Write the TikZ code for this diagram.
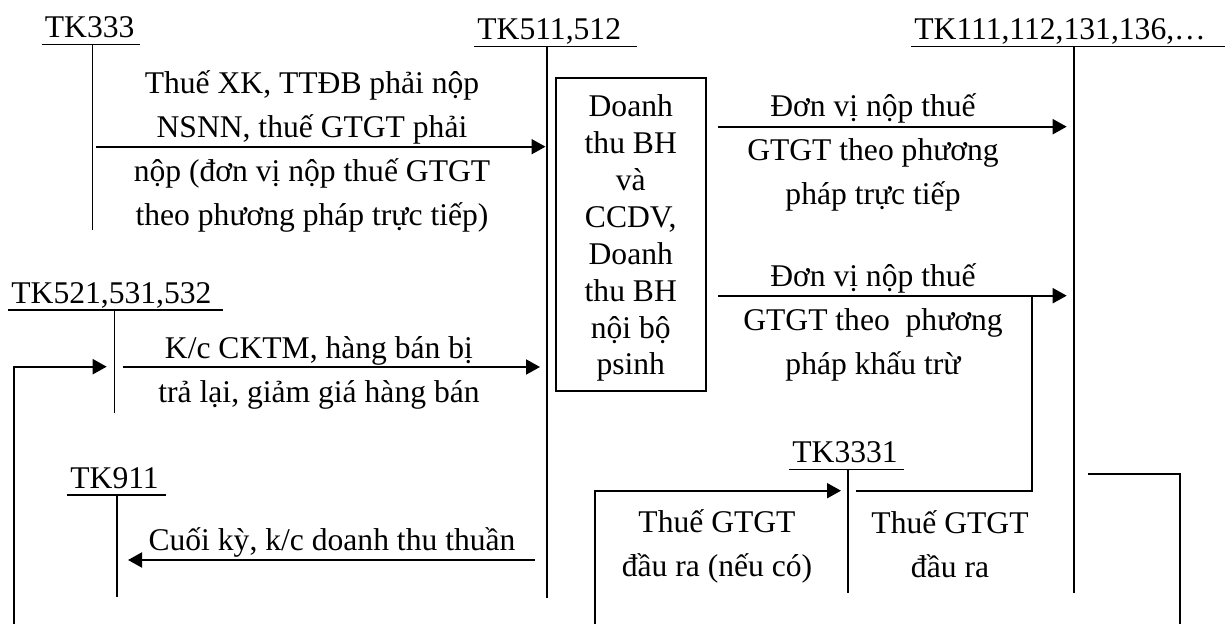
\documentclass[tikz,border=0pt]{standalone}
\usepackage{fontspec}
\setmainfont{Liberation Serif}
\usetikzlibrary{arrows.meta}
\tikzset{
  acct/.style={anchor=base west, inner sep=0pt, font=\fontsize{15.8}{19}\selectfont},
  tline/.style={line width=0.75pt},
  arr/.style={line width=1pt, -{Triangle[length=7pt,width=7.5pt]}},
  link/.style={line width=1pt},
  lbl/.style={align=center, inner sep=0pt, font=\fontsize{15.8}{22}\selectfont},
  doanhthu/.style={draw, line width=1pt, align=center, inner sep=0pt,
    minimum width=75.25pt, minimum height=156.5pt,
    font=\fontsize{15.8}{18.45}\selectfont}
}
% name, label, underline from, underline to, stem x, top y, bottom y
\newcommand{\taccount}[7]{%
  \node[acct] (#1) at (#3+3,#6-6.5) {#2};
  \draw[tline] (#3,#6) -- (#4,#6);
  \draw[tline] (#5,#6) coordinate (#1t) -- (#5,#7) coordinate (#1b);
}

\begin{document}
\begin{tikzpicture}[x=0.5pt,y=-0.5pt]
\useasboundingbox (0,0) rectangle (1225,624);

\taccount{tk333}{TK333}{41.5}{140}{92.5}{44.5}{230}
\taccount{tk511}{TK511,512}{474}{637}{547}{46.5}{598}
\taccount{tk111}{TK111,112,131,136,…}{911}{1225}{1074}{46.5}{593}
\taccount{tk521}{TK521,531,532}{8}{222.5}{114.5}{310}{413}
\taccount{tk911}{TK911}{67}{166}{117}{495}{597}
\taccount{tk3331}{TK3331}{789}{904}{848}{469.5}{593}

\node[doanhthu] (dt) at (630.75,234.2)
  {\rule{0pt}{15pt}Doanh\\thu BH\\và\\CCDV,\\Doanh\\thu BH\\nội bộ\\psinh};

\coordinate (nsnnA) at (96,146.7);   \coordinate (nsnnB) at (545.5,146.7);
\coordinate (ttA) at (718,126.7);    \coordinate (ttB) at (1066.7,126.7);
\coordinate (ktA) at (718,295.7);    \coordinate (ktB) at (1066.7,295.7);
\coordinate (ckA) at (123,367);      \coordinate (ckB) at (540,367);
\coordinate (kcA) at (534.5,560);    \coordinate (kcB) at (128,560);
\coordinate (ckC) at (14,624);       \coordinate (ckD) at (14,366.7);
\coordinate (ckE) at (106.7,366.7);
\coordinate (vaA) at (595,624);      \coordinate (vaB) at (595,490.7);
\coordinate (vaC) at (841,490.7);
\coordinate (drA) at (1031.7,295.7); \coordinate (drB) at (1031.7,490.7);
\coordinate (drC) at (856,490.7);
\coordinate (tiA) at (1088,474);     \coordinate (tiB) at (1180,474);
\coordinate (tiC) at (1180,624);

\draw[arr] (nsnnA) -- (nsnnB);
\draw[arr] (ttA) -- (ttB);
\draw[arr] (ktA) -- (ktB);
\draw[arr] (ckA) -- (ckB);
\draw[arr] (kcA) -- (kcB);
\draw[arr] (ckC) -- (ckD) -- (ckE);
\draw[arr] (vaA) -- (vaB) -- (vaC);
\draw[link] (drA) -- (drB) -- (drC);
\draw[link] (tiA) -- (tiB) -- (tiC);

\node[lbl] (nsnn) at (312,151) {Thuế XK, TTĐB phải nộp\\NSNN, thuế GTGT phải\\nộp (đơn vị nộp thuế GTGT\\theo phương pháp trực tiếp)};
\node[lbl] (tructiep) at (873,152) {Đơn vị nộp thuế\\GTGT theo phương\\pháp trực tiếp};
\node[lbl] (khautru) at (873,322) {Đơn vị nộp thuế\\GTGT theo~ phương\\pháp khấu trừ};
\node[lbl] (cktm) at (319,372.5) {K/c CKTM, hàng bán bị\\trả lại, giảm giá hàng bán};
\node[lbl] (cuoiky) at (332,542.5) {Cuối kỳ, k/c doanh thu thuần};
\node[lbl] (neuco) at (717,546.5) {Thuế GTGT\\đầu ra (nếu có)};
\node[lbl] (daura) at (950,544.5) {Thuế GTGT\\đầu ra};
\end{tikzpicture}
\end{document}
